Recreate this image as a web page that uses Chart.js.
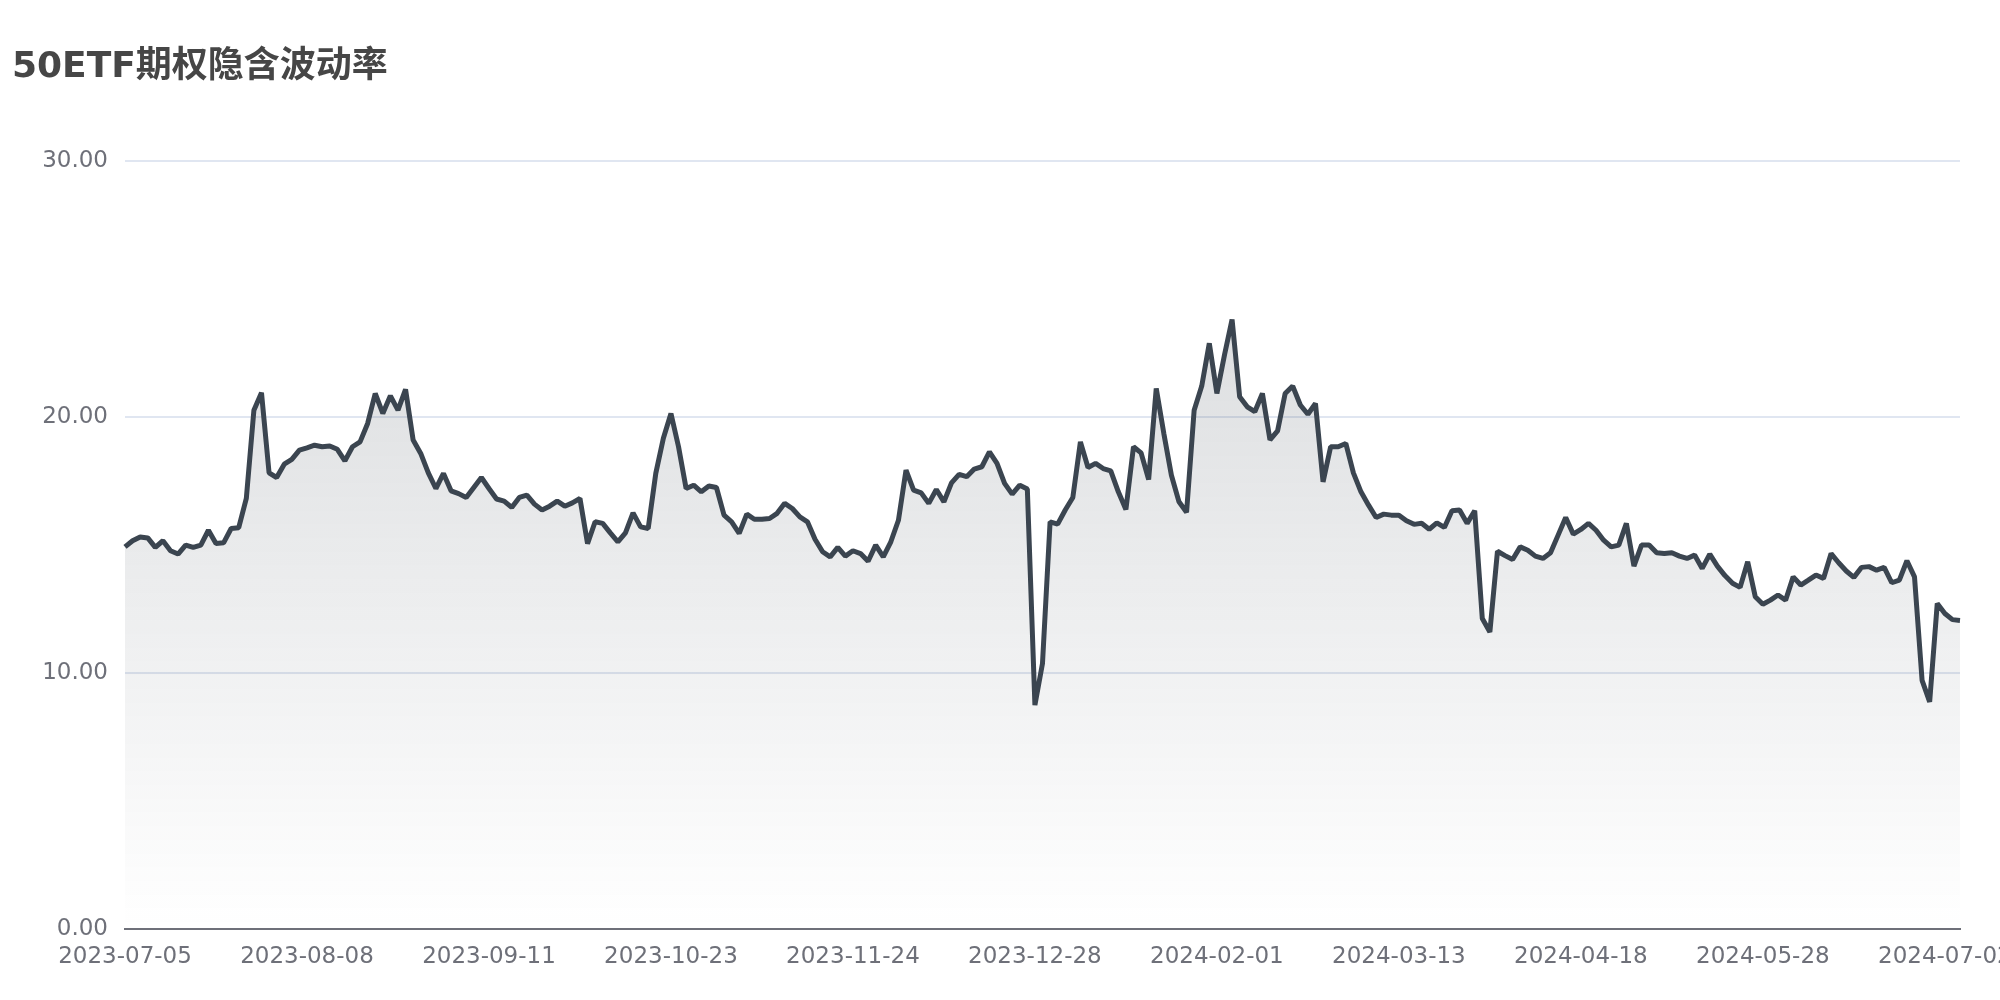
<!DOCTYPE html>
<html>
<head>
<meta charset="utf-8">
<title>50ETF期权隐含波动率</title>
<script src="https://cdn.jsdelivr.net/npm/chart.js@4/dist/chart.umd.min.js"></script>
<style>
  html, body { margin: 0; padding: 0; background: #fff; }
  #wrap { width: 2000px; height: 1000px; position: relative; }
</style>
</head>
<body>
<div id="wrap"><canvas id="ivChart"></canvas></div>
<script>
// trading calendar: weekdays from start to end, minus exchange closures
const startDate = '2023-07-05';
const endDate   = '2024-07-04';
const closedDays = [
  '2023-09-29','2023-10-02','2023-10-03','2023-10-04','2023-10-05','2023-10-06',
  '2024-01-01',
  '2024-02-12','2024-02-13','2024-02-14','2024-02-15','2024-02-16',
  '2024-04-04','2024-04-05','2024-04-30',
  '2024-05-01','2024-05-02','2024-05-03',
  '2024-06-10'
];

// implied volatility (%)
const ivValues = [
  14.92,15.16,15.31,15.27,14.90,15.16,14.77,14.64,14.99,14.90,
  14.99,15.57,15.05,15.08,15.64,15.67,16.81,20.26,20.94,17.81,
  17.63,18.15,18.34,18.70,18.79,18.89,18.83,18.86,18.73,18.28,
  18.83,19.02,19.74,20.91,20.13,20.82,20.26,21.07,19.09,18.57,
  17.81,17.20,17.79,17.11,17.00,16.85,17.24,17.63,17.20,16.79,
  16.71,16.46,16.85,16.94,16.59,16.36,16.51,16.71,16.51,16.64,
  16.81,15.05,15.90,15.84,15.47,15.12,15.47,16.25,15.70,15.64,
  17.79,19.16,20.13,18.83,17.20,17.33,17.07,17.30,17.24,16.16,
  15.90,15.45,16.20,16.00,16.00,16.03,16.23,16.62,16.42,16.09,
  15.90,15.22,14.73,14.53,14.90,14.56,14.77,14.66,14.36,14.99,
  14.53,15.12,15.96,17.92,17.14,17.03,16.62,17.16,16.68,17.42,
  17.75,17.66,17.96,18.05,18.63,18.18,17.40,16.98,17.33,17.18,
  8.74,10.37,15.90,15.81,16.36,16.85,19.02,18.02,18.18,17.98,
  17.89,17.07,16.38,18.83,18.59,17.55,21.11,19.35,17.72,16.68,
  16.27,20.26,21.20,22.87,20.91,22.41,23.80,20.78,20.39,20.20,
  20.91,19.10,19.45,20.91,21.20,20.46,20.10,20.52,17.46,18.83,
  18.83,18.96,17.81,17.07,16.55,16.07,16.20,16.16,16.16,15.94,
  15.80,15.84,15.61,15.86,15.68,16.33,16.36,15.84,16.33,12.12,
  11.60,14.75,14.58,14.43,14.92,14.79,14.56,14.47,14.69,15.38,
  16.07,15.42,15.60,15.84,15.57,15.18,14.92,14.99,15.84,14.17,
  14.99,14.99,14.69,14.66,14.69,14.56,14.47,14.60,14.08,14.64,
  14.17,13.80,13.50,13.34,14.34,12.97,12.68,12.84,13.04,12.84,
  13.75,13.43,13.62,13.82,13.69,14.66,14.30,13.98,13.73,14.12,
  14.15,14.01,14.12,13.52,13.62,14.38,13.75,9.71,8.87,12.71,
  12.32,12.08,12.05
];

const yTicks = [0, 10, 20, 30];
const labelEvery = 24;

const dates = [];
for (let t = Date.parse(startDate + 'T00:00:00Z'); t <= Date.parse(endDate + 'T00:00:00Z'); t += 86400000) {
  const d = new Date(t);
  const wd = d.getUTCDay();
  const s = d.toISOString().slice(0, 10);
  if (wd === 0 || wd === 6 || closedDays.includes(s)) continue;
  dates.push(s);
}

const axisGray = '#6E7079';
const lineColor = '#3b4550';
const baseFont = '"DejaVu Sans", "Noto Sans CJK SC", sans-serif';

new Chart(document.getElementById('ivChart').getContext('2d'), {
  type: 'line',
  data: {
    labels: dates,
    datasets: [{
      label: '50ETF IV',
      data: ivValues,
      borderColor: lineColor,
      borderWidth: 5,
      borderJoinStyle: 'bevel',
      pointRadius: 0,
      tension: 0,
      fill: 'origin',
      backgroundColor: ctx => {
        const a = ctx.chart.chartArea;
        if (!a) return 'rgba(59,69,80,0.1)';
        const g = ctx.chart.ctx.createLinearGradient(0, a.top, 0, a.bottom);
        g.addColorStop(0, 'rgba(59,69,80,0.22)');
        g.addColorStop(1, 'rgba(59,69,80,0)');
        return g;
      }
    }]
  },
  options: {
    responsive: true,
    maintainAspectRatio: false,
    animation: false,
    layout: { padding: { left: 12, right: 40, top: 0, bottom: 0 } },
    plugins: {
      legend: { display: false },
      tooltip: { enabled: false },
      title: {
        display: true,
        text: '50ETF期权隐含波动率',
        align: 'start',
        color: '#464646',
        font: { family: baseFont, size: 36, weight: 'bold' },
        padding: { top: 46, bottom: 71.5 }
      }
    },
    scales: {
      x: {
        grid: { display: false, drawTicks: false },
        border: { display: true, color: axisGray, width: 2 },
        ticks: {
          autoSkip: false,
          maxRotation: 0,
          padding: 14,
          color: axisGray,
          font: { family: baseFont, size: 23 },
          callback: function (v, i) { return i % labelEvery === 0 ? this.getLabelForValue(v) : null; }
        },
        afterFit: s => { s.height = 71; s.paddingLeft = 0; s.paddingRight = 0; }
      },
      y: {
        min: 0,
        max: 30,
        afterBuildTicks: s => { s.ticks = yTicks.map(v => ({ value: v })); },
        grid: {
          drawTicks: false,
          lineWidth: 2,
          color: c => c.tick && c.tick.value === 0 ? 'rgba(0,0,0,0)' : '#E0E6F1'
        },
        border: { display: false },
        ticks: {
          padding: 17,
          color: axisGray,
          font: { family: baseFont, size: 23 },
          callback: v => Number(v).toFixed(2)
        },
        afterFit: s => { s.width = 113; }
      }
    }
  }
});
</script>
</body>
</html>
